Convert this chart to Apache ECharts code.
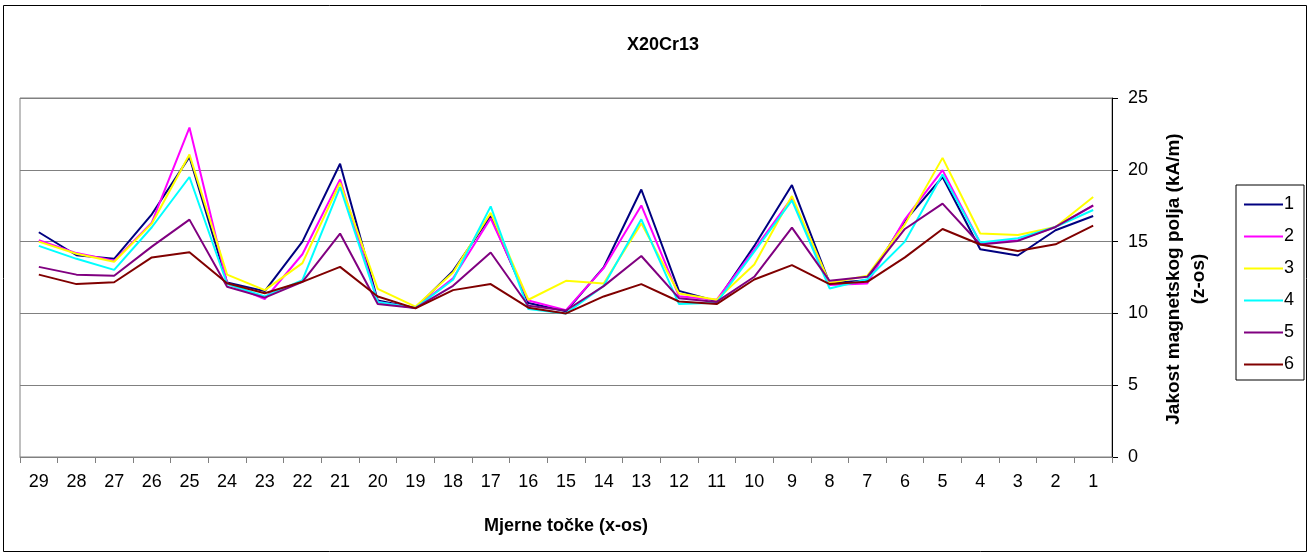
<!DOCTYPE html>
<html>
<head>
<meta charset="utf-8">
<script src="https://cdn.jsdelivr.net/npm/echarts@6/dist/echarts.min.js"></script>
<style>
html,body{margin:0;padding:0;background:#fff;}
#chart{width:1311px;height:555px;}
</style>
</head>
<body>
<div id="chart"></div>
<script>
const categories = ['29','28','27','26','25','24','23','22','21','20','19','18','17','16','15','14','13','12','11','10','9','8','7','6','5','4','3','2','1'];
const seriesNames = ['1','2','3','4','5','6'];
const s1 = [15.65,14.05,13.8,16.9,20.9,12.15,11.55,15.0,20.42,10.9,10.37,12.96,16.78,10.72,10.15,13.2,18.63,11.57,10.85,14.7,18.94,12.1,12.3,16.44,19.5,14.47,14.03,15.79,16.78];
const s2 = [15.1,14.2,13.66,16.32,22.94,12.1,11.0,14.12,19.33,10.8,10.37,12.45,16.62,10.9,10.23,13.15,17.52,11.2,10.95,14.45,18.05,11.97,12.08,16.55,19.98,14.9,15.1,16.02,17.5];
const s3 = [15.0,14.15,13.6,16.25,21.06,12.7,11.62,13.5,19.1,11.71,10.47,12.85,17.0,10.95,12.27,12.08,16.27,11.39,10.95,13.4,18.17,12.12,12.62,16.2,20.83,15.56,15.46,16.02,18.1];
const s4 = [14.7,13.8,13.03,16.0,19.5,12.05,11.18,12.31,18.8,10.8,10.37,12.34,17.45,10.3,10.0,11.92,16.55,10.65,10.75,14.3,17.87,11.74,12.38,15.0,19.68,14.93,15.23,16.02,17.2];
const s5 = [13.24,12.7,12.62,14.65,16.53,11.85,11.1,12.2,15.56,10.65,10.37,11.92,14.24,10.53,10.2,11.9,14.0,11.06,10.8,12.55,15.97,12.27,12.55,15.88,17.64,14.8,15.05,16.02,17.52];
const s6 = [12.7,12.04,12.17,13.9,14.26,12.1,11.4,12.2,13.24,11.18,10.35,11.62,12.04,10.4,10.0,11.18,12.04,10.83,10.65,12.36,13.36,12.04,12.2,13.9,15.88,14.8,14.35,14.81,16.11];
const yTicks = [0,5,10,15,20,25];

const colors = ['#000080','#FF00FF','#FFFF00','#00FFFF','#800080','#800000'];
const allData = [s1,s2,s3,s4,s5,s6];
const FONT = 'Liberation Sans, Arial, sans-serif';

const chart = echarts.init(document.getElementById('chart'), null, {renderer:'canvas'});
chart.setOption({
  animation:false,
  backgroundColor:'#ffffff',
  textStyle:{fontFamily:FONT},
  title:{
    text:'X20Cr13',
    left:658, top:31, textAlign:'center',
    textStyle:{fontFamily:FONT,fontSize:18,fontWeight:'bold',color:'#000'}
  },
  grid:{
    left:20, right:199, top:98, bottom:98,
    show:true, borderColor:'#808080', borderWidth:1, backgroundColor:'#fff'
  },
  legend:{
    orient:'vertical',
    left:1236, top:185,
    padding:[9,10,5,8],
    icon:'rect',
    itemWidth:39, itemHeight:2, itemGap:11,
    borderColor:'#000', borderWidth:1,
    textStyle:{fontFamily:FONT,fontSize:18,color:'#000',padding:[0,0,0,-4],lineHeight:21},
    data:seriesNames
  },
  xAxis:{
    type:'category',
    data:categories,
    boundaryGap:true,
    name:'Mjerne točke (x-os)',
    nameLocation:'middle',
    nameGap:60,
    nameTextStyle:{fontFamily:FONT,fontSize:18,fontWeight:'bold',color:'#000'},
    axisLine:{lineStyle:{color:'#808080',width:1}},
    axisTick:{show:true,interval:0,length:6,lineStyle:{color:'#808080'}},
    axisLabel:{interval:0,fontFamily:FONT,fontSize:18,color:'#000',margin:16},
    splitLine:{show:false}
  },
  yAxis:{
    type:'value',
    position:'right',
    min:yTicks[0], max:yTicks[yTicks.length-1], interval:5,
    axisLine:{show:true,lineStyle:{color:'#000',width:1}},
    axisTick:{show:true,length:6,lineStyle:{color:'#000'}},
    axisLabel:{fontFamily:FONT,fontSize:18,color:'#000',margin:16},
    splitLine:{show:true,lineStyle:{color:'#808080',width:1}}
  },
  graphic:[
    {type:'rect',shape:{x:3.5,y:5.5,width:1303,height:546},style:{fill:null,stroke:'#000',lineWidth:1},silent:true,z:-1},
    {type:'text',x:1186,y:279,rotation:Math.PI/2,
     style:{text:'Jakost magnetskog polja (kA/m)\n(z-os)',align:'center',verticalAlign:'middle',
            font:'bold 19px Liberation Sans, Arial, sans-serif',fill:'#000',lineHeight:25}}
  ],
  series: allData.map((d,i)=>({
    name:seriesNames[i],
    type:'line',
    data:d,
    symbol:'none',
    lineStyle:{color:colors[i],width:2},
    itemStyle:{color:colors[i]}
  }))
});
</script>
</body>
</html>
